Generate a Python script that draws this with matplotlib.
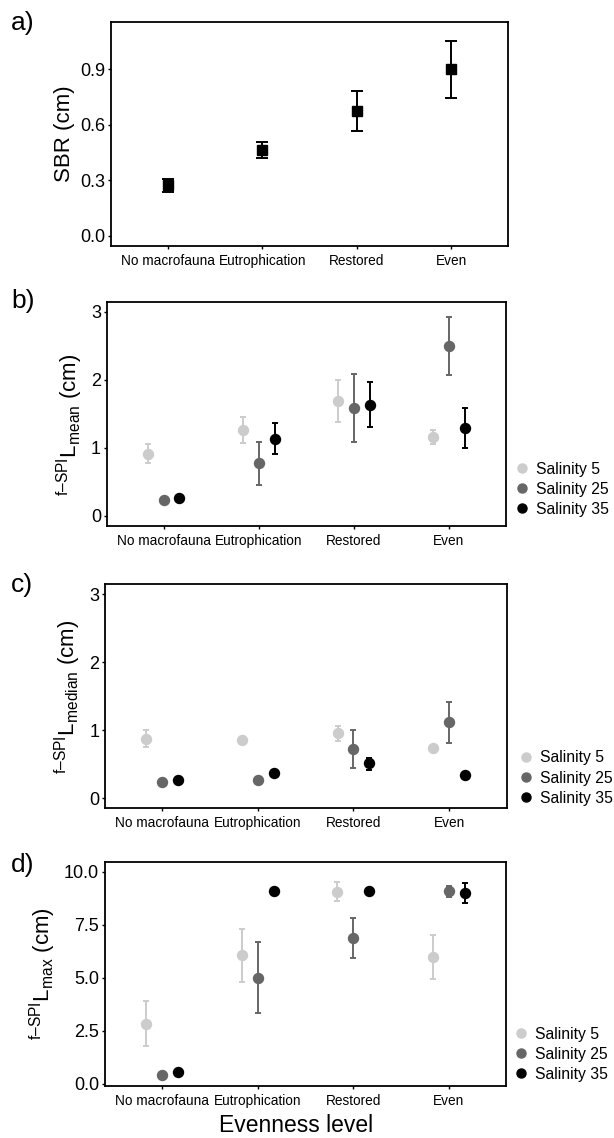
import numpy as np
import matplotlib
matplotlib.use("Agg")
import matplotlib.pyplot as plt
from matplotlib.lines import Line2D

plt.rcParams['font.family'] = ['Liberation Sans', 'DejaVu Sans']
plt.rcParams['mathtext.fontset'] = 'custom'
plt.rcParams['mathtext.rm'] = 'Liberation Sans'
plt.rcParams['mathtext.it'] = 'Liberation Sans:italic'

# ---- data ----
categories = ["No macrofauna", "Eutrophication", "Restored", "Even"]
salinities = ["Salinity 5", "Salinity 25", "Salinity 35"]

# a) SBR
sbr_mean = [0.275, 0.463, 0.673, 0.900]
sbr_low = [0.239, 0.422, 0.566, 0.745]
sbr_high = [0.307, 0.508, 0.783, 1.051]

# b) f-SPI L mean
lmean_s5 = [0.915, 1.269, 1.682, 1.156]
lmean_s5_low = [0.777, 1.072, 1.377, 1.053]
lmean_s5_high = [1.062, 1.461, 1.992, 1.264]
lmean_s25 = [0.231, 0.772, 1.584, 2.504]
lmean_s25_low = [0.231, 0.457, 1.082, 2.076]
lmean_s25_high = [0.231, 1.087, 2.081, 2.932]
lmean_s35 = [0.261, 1.136, 1.633, 1.289]
lmean_s35_low = [0.261, 0.915, 1.308, 0.999]
lmean_s35_high = [0.261, 1.362, 1.968, 1.584]

# c) f-SPI L median
lmed_s5 = [0.873, 0.849, 0.957, 0.740]
lmed_s5_low = [0.760, 0.849, 0.839, 0.740]
lmed_s5_high = [0.997, 0.849, 1.061, 0.740]
lmed_s25 = [0.232, 0.271, 0.725, 1.120]
lmed_s25_low = [0.232, 0.271, 0.444, 0.814]
lmed_s25_high = [0.232, 0.271, 0.997, 1.421]
lmed_s35 = [0.261, 0.365, 0.513, 0.345]
lmed_s35_low = [0.261, 0.365, 0.419, 0.345]
lmed_s35_high = [0.261, 0.365, 0.597, 0.345]

# d) f-SPI L max
lmax_s5 = [2.83, 6.05, 9.06, 5.98]
lmax_s5_low = [1.76, 4.81, 8.63, 4.92]
lmax_s5_high = [3.92, 7.31, 9.50, 7.01]
lmax_s25 = [0.41, 5.00, 6.86, 9.09]
lmax_s25_low = [0.41, 3.33, 5.91, 8.82]
lmax_s25_high = [0.41, 6.68, 7.81, 9.34]
lmax_s35 = [0.55, 9.09, 9.10, 8.98]
lmax_s35_low = [0.55, 9.09, 9.10, 8.51]
lmax_s35_high = [0.55, 9.09, 9.10, 9.45]

colors = ['#CCCCCC', '#666666', '#000000']
dodge = [-1 / 6, 0, 1 / 6]

W, H = 614, 1138
fig = plt.figure(figsize=(W / 100, H / 100), dpi=100)


def px_axes(left, right, top, bottom):
    return fig.add_axes([left / W, 1 - bottom / H, (right - left) / W, (bottom - top) / H])


def style_axes(ax, ylim, yticks, fmt):
    ax.set_xlim(0.4, 4.6)
    ax.set_ylim(*ylim)
    ax.set_xticks(np.arange(1, 5))
    ax.set_xticklabels(categories, fontsize=9.8)
    ax.set_yticks(yticks)
    ax.set_yticklabels([fmt.format(t) for t in yticks], fontsize=13)
    for sp in ax.spines.values():
        sp.set_linewidth(1.3)
    ax.tick_params(axis='both', direction='out', length=2.5, width=1, colors='black')
    ax.tick_params(axis='x', pad=3)
    ax.tick_params(axis='y', pad=1.5)


def dodge_points(ax, series):
    x = np.arange(1, 5)
    for i, (vals, low, high) in enumerate(series):
        vals = np.array(vals)
        yerr = [vals - np.array(low), np.array(high) - vals]
        ax.errorbar(x + dodge[i], vals, yerr=yerr, fmt='o', color=colors[i],
                    markersize=7.2, elinewidth=1.4, capsize=2.5, capthick=1.4)


def add_legend(dot_x, center_y):
    handles = [Line2D([], [], linestyle='None', marker='o', markersize=6.5,
                      color=c) for c in colors]
    fs = 11.3 * 100 / 72
    left = dot_x - 0.8 * fs / 2
    fig.legend(handles, salinities, loc='center left',
               bbox_to_anchor=(left / W, 1 - center_y / H), frameon=False,
               fontsize=11.3, handlelength=0.8, handletextpad=0.5,
               labelspacing=0.33, borderpad=0, borderaxespad=0)


def panel_letter(letter, top_y):
    fig.text(11 / W, 1 - top_y / H, letter, fontsize=19, ha='left', va='top')


# a) SBR
ax_a = px_axes(111.3, 507.8, 22, 246)
m = np.array(sbr_mean)
ax_a.errorbar(np.arange(1, 5), m, yerr=[m - np.array(sbr_low), np.array(sbr_high) - m],
              fmt='s', color='black', markersize=7.5, elinewidth=1.4,
              capsize=4, capthick=1.4)
style_axes(ax_a, (-0.055, 1.155), [0, 0.3, 0.6, 0.9], '{:.1f}')
ax_a.set_ylabel('SBR (cm)', fontsize=16)
panel_letter('a)', 11)

# b) L mean
ax_b = px_axes(106.6, 505.9, 301.7, 526)
dodge_points(ax_b, [(lmean_s5, lmean_s5_low, lmean_s5_high),
                    (lmean_s25, lmean_s25_low, lmean_s25_high),
                    (lmean_s35, lmean_s35_low, lmean_s35_high)])
style_axes(ax_b, (-0.15, 3.15), [0, 1, 2, 3], '{:d}')
ax_b.set_ylabel(r'$\mathregular{{}^{f–SPI}L_{mean}}$ (cm)', fontsize=16)
ax_b.yaxis.label.set_y(0.45)
add_legend(522, 489.3)
panel_letter('b)', 289)

# c) L median
ax_c = px_axes(104.7, 506.6, 584.3, 808.3)
dodge_points(ax_c, [(lmed_s5, lmed_s5_low, lmed_s5_high),
                    (lmed_s25, lmed_s25_low, lmed_s25_high),
                    (lmed_s35, lmed_s35_low, lmed_s35_high)])
style_axes(ax_c, (-0.15, 3.15), [0, 1, 2, 3], '{:d}')
ax_c.set_ylabel(r'$\mathregular{{}^{f–SPI}L_{median}}$ (cm)', fontsize=16)
add_legend(526, 778)
panel_letter('c)', 573)

# d) L max
ax_d = px_axes(104.7, 506.3, 861.7, 1086)
dodge_points(ax_d, [(lmax_s5, lmax_s5_low, lmax_s5_high),
                    (lmax_s25, lmax_s25_low, lmax_s25_high),
                    (lmax_s35, lmax_s35_low, lmax_s35_high)])
style_axes(ax_d, (-0.11, 10.47), [0, 2.5, 5, 7.5, 10], '{:.1f}')
ax_d.set_ylabel(r'$\mathregular{{}^{f–SPI}L_{max}}$ (cm)', fontsize=16)
add_legend(520.7, 1054.3)
panel_letter('d)', 853)

fig.text(296 / W, 1 - 1125.7 / H, 'Evenness level', fontsize=16.5,
         ha='center', va='center')

fig.savefig('out.png', dpi=100)
